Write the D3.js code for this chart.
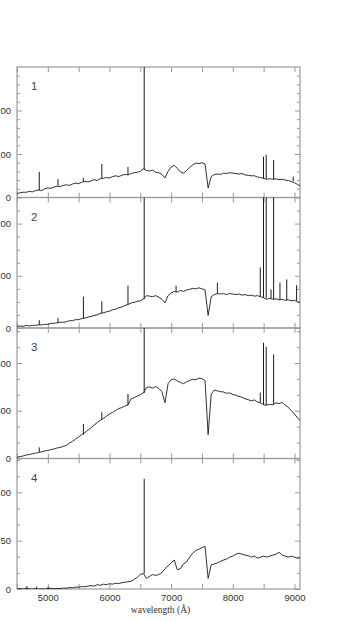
<!DOCTYPE html>
<html>
<head>
<meta charset="utf-8">
<script src="https://cdn.jsdelivr.net/npm/d3@7"></script>
<style>
	body { margin: 0; background: #fff; }
	svg { display: block; }
</style>
</head>
<body>
<div id="chart"></div>
<script>

// wavelength sampling of the continuum (Å)
const waveGrid = d3.range(4500, 9101, 50);

// continuum flux per panel, one value per 50 Å from 4500 to 9100
const flux1 = [
	9, 11, 12, 12, 14, 13, 16, 17, 16, 20,
	22, 21, 24, 26, 25, 28, 29, 28, 31, 33,
	32, 35, 37, 36, 38, 41, 39, 43, 44, 46,
	45, 48, 50, 48, 51, 53, 52, 55, 57, 58,
	60, 66, 62, 61, 63, 58, 57, 53, 45, 60,
	70, 74, 67, 59, 56, 62, 69, 75, 79, 78,
	80, 77, 22, 48, 53, 54, 53, 56, 55, 57,
	56, 55, 54, 55, 52, 51, 50, 50, 47, 46,
	44, 42, 43, 42, 43, 41, 42, 40, 39, 37,
	34, 30, 26
];
const flux2 = [
	3, 4, 3, 5, 4, 5, 5, 6, 6, 7,
	7, 9, 9, 10, 11, 11, 12, 14, 14, 16,
	16, 18, 19, 21, 22, 24, 25, 28, 29, 31,
	32, 35, 36, 39, 40, 43, 45, 48, 49, 51,
	52, 56, 62, 61, 60, 62, 59, 55, 48, 62,
	67, 70, 69, 72, 70, 73, 74, 76, 75, 77,
	75, 73, 24, 60, 64, 66, 65, 66, 64, 66,
	65, 64, 65, 63, 64, 62, 63, 61, 62, 60,
	58, 55, 57, 55, 56, 54, 55, 53, 54, 52,
	53, 50, 49
];
const flux3 = [
	8, 12, 16, 22, 25, 30, 33, 38, 42, 48,
	50, 56, 60, 66, 70, 76, 82, 96, 108, 122,
	135, 150, 162, 178, 192, 210, 225, 240, 252, 266,
	279, 290, 302, 314, 320, 330, 336, 375, 382, 392,
	400, 412, 445, 450, 442, 452, 440, 420, 350, 470,
	495, 500, 488, 478, 470, 482, 490, 498, 495, 505,
	502, 490, 150, 405, 430, 425, 420, 418, 410, 412,
	402, 398, 390, 385, 375, 370, 362, 368, 355, 350,
	338, 335, 340, 338, 350, 345, 352, 335, 322, 300,
	280, 255, 235
];
const flux4 = [
	0, 0.5, 0, 0.8, 0.2, 0, 0.5, 0, 0.3, 0,
	0.4, 0.8, 0.2, 0.6, 0.5, 1, 0.8, 1.5, 1.2, 2,
	1.8, 2.6, 2.2, 3, 3.5, 3, 4.5, 3.8, 5, 4.5,
	5.5, 5, 6, 5.5, 6.5, 7, 7.5, 8, 10, 12,
	15, 16, 11, 13, 15, 14, 15, 17, 21, 24,
	27, 30, 20, 21, 26, 28, 33, 37, 40, 41,
	43, 44, 11, 25, 26, 27, 28.5, 30, 31, 33,
	34, 36, 37, 36, 35, 34.5, 33, 34, 32, 33,
	34, 33, 34, 35, 36, 38, 35, 34, 33, 34,
	33, 32, 32
];

// narrow emission lines: [wavelength, continuum under it, peak]
const lines1 = [[4861,17,59],[5165,27,42],[5577,36,45],[5876,44,77],[6300,52,70],[6563,64,400],
	[8498,44,94],[8542,43,98],[8662,41,86],[8980,38,48]];
const lines2 = [[4861,6,15],[5165,10,19],[5577,18,60],[5876,28,51],[6300,45,81],[6563,55,400],
	[7080,69,81],[7750,66,87],[8446,60,116],[8498,58,400],[8542,57,400],[8620,57,74],
	[8662,55,400],[8765,54,87],[8875,53,93],[9035,52,82]];
const lines3 = [[4861,40,70],[5577,150,217],[5876,245,290],[6300,336,405],[6563,412,1200],
	[8446,350,414],[8498,338,727],[8542,335,702],[8662,338,654]];
const lines4 = [[4660,0,3],[4820,0,2.5],[5005,0,2],[6563,16,114]];

const panelLabels = ['1', '2', '3', '4'];
const yMax = [300, 250, 820, 135];
const yMajorTicks = [[0, 100, 200], [0, 100, 200], [0, 300, 600], [0, 50, 100]];
const yMinorStep = [20, 25, 100, 50 / 3];
const xMajorTicks = [5000, 6000, 7000, 8000, 9000];
const xMinorTicks = [4500, 5500, 6500, 7500, 8500];
const xLabel = 'wavelength (Å)';

const allFlux = [flux1, flux2, flux3, flux4];
const allLines = [lines1, lines2, lines3, lines4];

// ----------------------------------
// layout
// ----------------------------------
const width = 364,
	height = 621,
	left = 17,
	right = 300,
	top0 = 67,
	panelH = 130.5,
	frameColor = '#999',
	inkColor = '#1a1a1a';

const svg = d3.select('#chart')
	.append('svg')
	.attr('width', width)
	.attr('height', height);

const xScale = d3.scaleLinear()
	.domain([4500, 9090])
	.range([left, right]);

allFlux.forEach((flux, i) => {
	const top = top0 + i * panelH,
		bottom = top + panelH;

	const yScale = d3.scaleLinear()
		.domain([0, yMax[i]])
		.range([bottom, top]);

	const panel = svg.append('g').attr('class', 'panel');

	// clip so the strong lines stop at the frame
	panel.append('clipPath')
		.attr('id', 'clip' + i)
		.append('rect')
		.attr('x', left)
		.attr('y', top)
		.attr('width', right - left)
		.attr('height', panelH);

	const minor = d3.range(0, yMax[i], yMinorStep[i]).filter(v => !yMajorTicks[i].some(m => Math.abs(m - v) < 1e-6));

	const styleAxis = g => {
		g.select('.domain').remove();
		g.selectAll('line').attr('stroke', frameColor).attr('stroke-width', 1);
		g.selectAll('text')
			.attr('fill', '#333')
			.style('font-family', '"Liberation Sans", Arial, sans-serif')
			.style('font-size', '9.5px');
	};

	// left axis with labels (leading digit falls off the page, as in the original)
	panel.append('g')
		.attr('transform', `translate(${left},0)`)
		.call(d3.axisLeft(yScale).tickValues(yMajorTicks[i]).tickSize(-5).tickPadding(6).tickFormat(d3.format('d')))
		.call(styleAxis);
	panel.append('g')
		.attr('transform', `translate(${left},0)`)
		.call(d3.axisLeft(yScale).tickValues(minor).tickSize(-3).tickFormat(''))
		.call(styleAxis);

	// right axis, ticks only
	panel.append('g')
		.attr('transform', `translate(${right},0)`)
		.call(d3.axisRight(yScale).tickValues(yMajorTicks[i]).tickSize(-5).tickFormat(''))
		.call(styleAxis);
	panel.append('g')
		.attr('transform', `translate(${right},0)`)
		.call(d3.axisRight(yScale).tickValues(minor).tickSize(-3).tickFormat(''))
		.call(styleAxis);

	// top and bottom wavelength ticks
	panel.append('g')
		.attr('transform', `translate(0,${top})`)
		.call(d3.axisTop(xScale).tickValues(xMajorTicks.concat(xMinorTicks)).tickSize(-5).tickFormat(''))
		.call(styleAxis);
	panel.append('g')
		.attr('transform', `translate(0,${bottom})`)
		.call(d3.axisBottom(xScale).tickValues(xMajorTicks.concat(xMinorTicks)).tickSize(-5).tickPadding(5)
			.tickFormat(d => (i === 3 && xMajorTicks.includes(d)) ? d : ''))
		.call(styleAxis);

	// frame
	panel.append('rect')
		.attr('x', left)
		.attr('y', top)
		.attr('width', right - left)
		.attr('height', panelH)
		.attr('fill', 'none')
		.attr('stroke', frameColor)
		.attr('stroke-width', 1.2);

	// spectrum
	const line = d3.line()
		.x((d, k) => xScale(waveGrid[k]))
		.y(d => yScale(d));

	const ink = panel.append('g').attr('clip-path', `url(#clip${i})`);

	ink.append('path')
		.datum(flux)
		.attr('d', line)
		.attr('fill', 'none')
		.attr('stroke', inkColor)
		.attr('stroke-width', 0.9)
		.attr('stroke-linejoin', 'round');

	ink.selectAll('line.em')
		.data(allLines[i])
		.enter()
		.append('line')
		.attr('class', 'em')
		.attr('x1', d => xScale(d[0]))
		.attr('x2', d => xScale(d[0]))
		.attr('y1', d => yScale(d[1]))
		.attr('y2', d => yScale(d[2]))
		.attr('stroke', inkColor)
		.attr('stroke-width', 1);

	// panel number
	panel.append('text')
		.attr('x', 31)
		.attr('y', top + 23)
		.attr('fill', '#444')
		.style('font-family', '"Liberation Sans", Arial, sans-serif')
		.style('font-size', '11.5px')
		.text(panelLabels[i]);
});

svg.append('text')
	.attr('x', (left + right) / 2 + 2)
	.attr('y', 613)
	.attr('text-anchor', 'middle')
	.attr('fill', '#333')
	.style('font-family', '"Liberation Serif", "DejaVu Serif", serif')
	.style('font-size', '9.5px')
	.text(xLabel);

</script>
</body>
</html>
